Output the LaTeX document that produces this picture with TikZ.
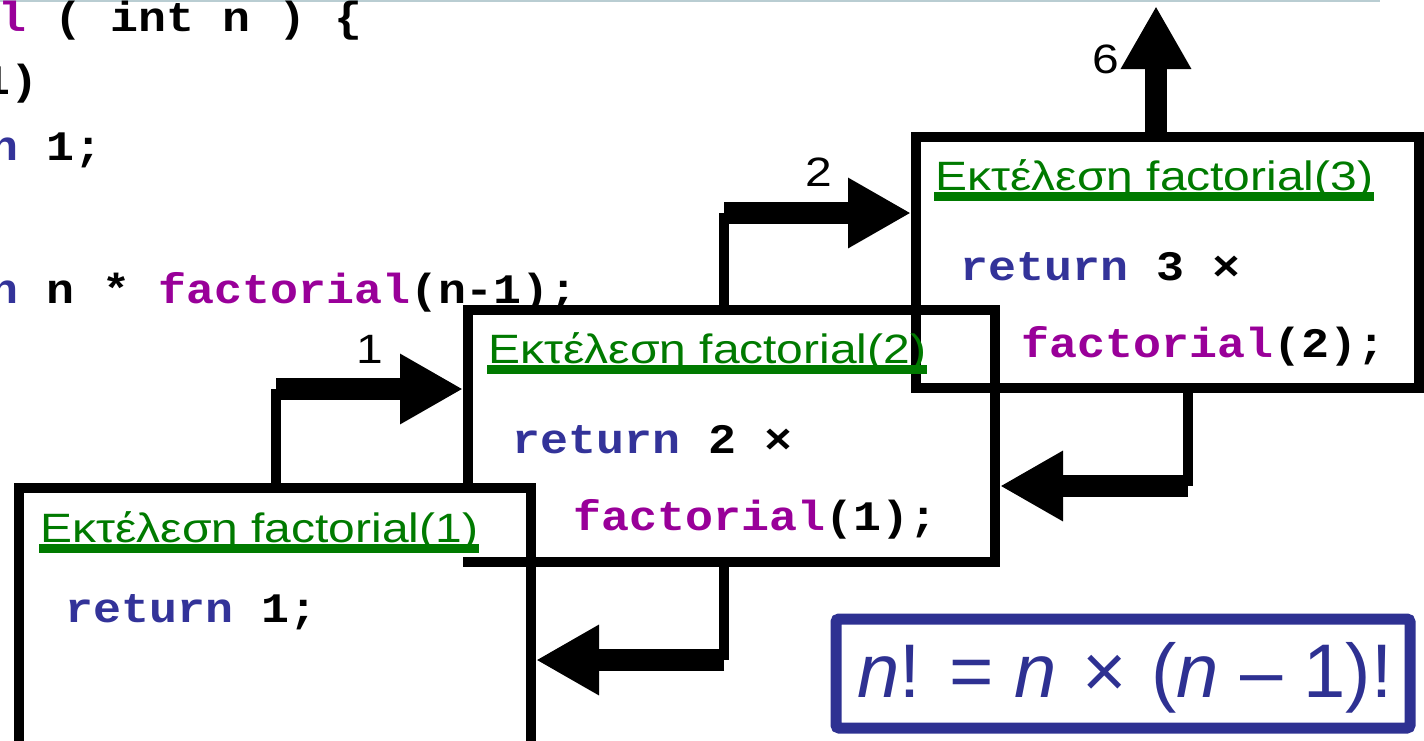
\documentclass[tikz,border=0pt]{standalone}
\usepackage{fontspec}
\usetikzlibrary{arrows.meta,calc}
\newfontfamily\mono[FakeStretch=1.11]{Liberation Mono}
\newfontfamily\arial[FakeStretch=1.17]{Liberation Sans}
\newfontfamily\arialplain{Liberation Sans}
\definecolor{kwblue}{RGB}{51,51,153}
\definecolor{fnpurple}{RGB}{153,0,153}
\definecolor{hdgreen}{RGB}{0,122,0}
\definecolor{frmblue}{RGB}{46,49,146}
\definecolor{rulegrey}{RGB}{185,205,210}
\begin{document}
\begin{tikzpicture}[x=0.5pt,y=-0.5pt,
  frame/.style={draw=black,line width=5pt,inner sep=0pt,anchor=north west},
  code/.style={anchor=base west,inner sep=0pt,font=\mono\bfseries\fontsize{21pt}{26pt}\selectfont},
  heading/.style={anchor=base west,inner sep=0pt,text=hdgreen,font=\arial\fontsize{20.5pt}{24pt}\selectfont},
  num/.style={inner sep=0pt,font=\arial\fontsize{20.5pt}{24pt}\selectfont},
  link/.style={line width=5pt},
  shaft/.style={line width=11pt,-{Triangle[length=31.5pt,width=33pt]}},
]
\useasboundingbox (0,0) rectangle (1424,740);

% rule at the top of the slide
\coordinate (ra) at (0,1);
\coordinate (rb) at (1380,1);
\draw[rulegrey,line width=0.75pt] (ra) -- (rb);

% source of the function, cut at the left edge
\node[code] (t1) at (-2,31) {\textcolor{fnpurple}{l} ( int n ) \{};
\node[code] (t2) at (-18,94) {1)};
\node[code] (t3) at (-10,160) {\textcolor{kwblue}{n} 1;};
\node[code] (t4) at (-10,303) {\textcolor{kwblue}{n} n * \textcolor{fnpurple}{factorial}(n-1);};

% activation frames
\node[frame,minimum width=251.5pt,minimum height=125.5pt] (f3) at (911,132) {};
\node[frame,minimum width=263.5pt,minimum height=126pt] (f2) at (463,305) {};
\node[frame,fill=white,minimum width=256pt,minimum height=141pt] (f1) at (14,483) {};
% lower edge of the middle frame stays in front
\draw[link] ($(f2.south west)+(0,-5)$) -- ($(f2.south east)+(0,-5)$);

% frame contents
\node[heading] (h1) at (40,542) {Εκτέλεση factorial(1)};
\node[heading] (h2) at (488,363) {Εκτέλεση factorial(2)};
\node[heading] (h3) at (935,190) {Εκτέλεση factorial(3)};
\foreach \h in {h1,h2,h3}
  \fill[hdgreen] ($(\h.base west)+(-1,2)$) rectangle ($(\h.base east)+(0,11)$);

\node[code] (r1) at (65,622) {\textcolor{kwblue}{return} 1;};
\node[code] (r2) at (512,453) {\textcolor{kwblue}{return} 2 ×};
\node[code] (c2) at (573,530) {\textcolor{fnpurple}{factorial}(1);};
\node[code] (r3) at (960,280) {\textcolor{kwblue}{return} 3 ×};
\node[code] (c3) at (1021,357) {\textcolor{fnpurple}{factorial}(2);};

% calls
\coordinate (k1) at (276,389);
\draw[link] (f1.north -| k1) -- (k1);
\draw[shaft] (k1) -- (k1 -| f2.west);
\coordinate (k2) at (724,213);
\draw[link] (f2.north -| k2) -- (k2);
\draw[shaft] (k2) -- (k2 -| f3.west);

% returns
\coordinate (k3) at (1188,486);
\draw[link] (f3.south -| k3) -- (k3);
\draw[shaft] (k3) -- (k3 -| f2.east);
\coordinate (k4) at (724,660);
\draw[link] (f2.south -| k4) -- (k4);
\draw[shaft] (k4) -- (k4 -| f1.east);
\coordinate (k5) at (1156,6);
\draw[shaft] (f3.north -| k5) -- (k5);

% values passed along the arrows
\node[num] (l1) at (370,349) {1};
\node[num] (l2) at (819,172) {2};
\node[num] (l6) at (1106,59) {6};

% recurrence
\node[frame,draw=frmblue,line width=5.5pt,rounded corners=1.5pt,minimum width=287pt,minimum height=54.5pt] (eq) at (830.5,613.5) {};
\node[inner sep=0pt,anchor=base,text=frmblue,font=\arialplain\fontsize{38pt}{44pt}\selectfont] (eqt) at (1125,697)
  {\textit{n}! = \textit{n}\hspace{2pt} × \hspace{2pt}(\textit{n} – 1)!};
\end{tikzpicture}
\end{document}
